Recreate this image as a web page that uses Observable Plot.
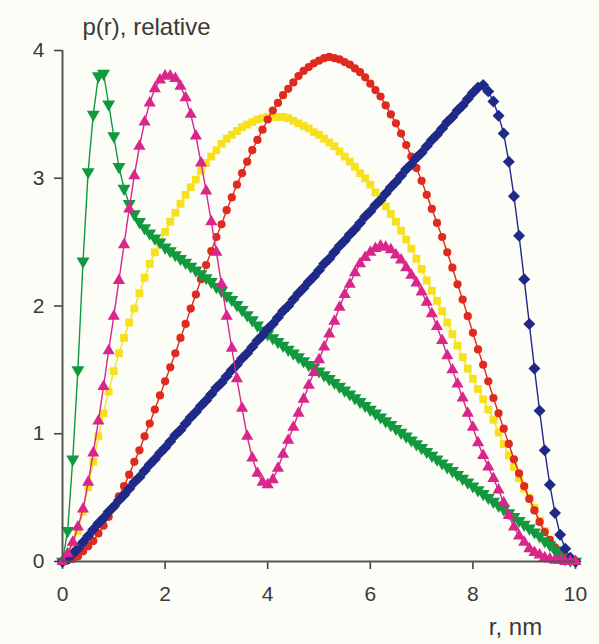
<!DOCTYPE html>
<html>
<head>
<meta charset="utf-8">
<script src="https://cdn.jsdelivr.net/npm/d3@7"></script>
<script src="https://cdn.jsdelivr.net/npm/@observablehq/plot@0.6"></script>
<style>
  html, body { margin: 0; padding: 0; background: #fdfdf8; }
  #chart { width: 599px; height: 644px; }
</style>
</head>
<body>
<div id="chart"></div>
<script>
// r values (nm)
const r = [0,0.1,0.2,0.3,0.4,0.5,0.6,0.7,0.8,0.9,
  1,1.1,1.2,1.3,1.4,1.5,1.6,1.7,1.8,1.9,
  2,2.1,2.2,2.3,2.4,2.5,2.6,2.7,2.8,2.9,
  3,3.1,3.2,3.3,3.4,3.5,3.6,3.7,3.8,3.9,
  4,4.1,4.2,4.3,4.4,4.5,4.6,4.7,4.8,4.9,
  5,5.1,5.2,5.3,5.4,5.5,5.6,5.7,5.8,5.9,
  6,6.1,6.2,6.3,6.4,6.5,6.6,6.7,6.8,6.9,
  7,7.1,7.2,7.3,7.4,7.5,7.6,7.7,7.8,7.9,
  8,8.1,8.2,8.3,8.4,8.5,8.6,8.7,8.8,8.9,
  9,9.1,9.2,9.3,9.4,9.5,9.6,9.7,9.8,9.9,10];

const green = [0,0.24,0.80,1.50,2.35,3.05,3.50,3.80,3.82,3.58,
  3.33,3.09,2.92,2.80,2.72,2.66,2.61,2.57,2.53,2.50,
  2.46,2.43,2.40,2.37,2.34,2.31,2.28,2.25,2.22,2.19,
  2.15,2.12,2.08,2.05,2.01,1.97,1.93,1.89,1.85,1.81,
  1.78,1.75,1.72,1.69,1.66,1.63,1.60,1.57,1.54,1.52,
  1.49,1.46,1.43,1.40,1.37,1.34,1.31,1.28,1.25,1.22,
  1.19,1.16,1.13,1.10,1.07,1.04,1.01,0.98,0.95,0.92,
  0.89,0.86,0.83,0.80,0.77,0.74,0.71,0.68,0.65,0.62,
  0.59,0.56,0.53,0.50,0.47,0.44,0.41,0.38,0.35,0.32,
  0.29,0.26,0.23,0.20,0.16,0.13,0.09,0.05,0.02,0.01,0];

const magenta = [0,0.06,0.15,0.27,0.41,0.62,0.85,1.10,1.37,1.65,
  1.92,2.20,2.48,2.76,3.02,3.25,3.44,3.59,3.70,3.77,
  3.80,3.80,3.78,3.72,3.63,3.50,3.33,3.12,2.90,2.66,
  2.42,2.17,1.92,1.67,1.43,1.20,0.98,0.81,0.69,0.62,
  0.60,0.64,0.73,0.84,0.95,1.05,1.16,1.27,1.38,1.48,
  1.58,1.68,1.78,1.88,1.99,2.09,2.17,2.26,2.33,2.38,
  2.42,2.45,2.47,2.46,2.44,2.40,2.36,2.30,2.24,2.18,
  2.11,2.03,1.94,1.84,1.73,1.61,1.50,1.39,1.28,1.16,
  1.05,0.93,0.83,0.74,0.65,0.56,0.46,0.36,0.27,0.20,
  0.15,0.10,0.07,0.05,0.03,0.02,0.01,0.01,0,0,0];

const yellow = [0,0.04,0.12,0.24,0.39,0.58,0.78,0.98,1.16,1.33,
  1.49,1.63,1.75,1.87,1.98,2.10,2.22,2.33,2.42,2.50,
  2.58,2.66,2.73,2.80,2.87,2.93,2.99,3.06,3.12,3.17,
  3.22,3.27,3.31,3.34,3.37,3.40,3.42,3.44,3.46,3.47,
  3.48,3.48,3.48,3.48,3.47,3.45,3.43,3.41,3.39,3.36,
  3.34,3.31,3.28,3.25,3.21,3.17,3.13,3.09,3.04,3.00,
  2.95,2.89,2.84,2.78,2.72,2.66,2.59,2.52,2.45,2.37,
  2.29,2.20,2.12,2.04,1.96,1.87,1.78,1.69,1.60,1.51,
  1.43,1.35,1.27,1.19,1.11,1.01,0.92,0.83,0.74,0.65,
  0.57,0.50,0.42,0.32,0.24,0.17,0.10,0.05,0.02,0.01,0];

const red = [0,0.01,0.02,0.04,0.08,0.12,0.16,0.22,0.28,0.35,
  0.43,0.51,0.59,0.68,0.78,0.87,0.98,1.08,1.19,1.30,
  1.41,1.52,1.63,1.75,1.86,1.98,2.09,2.21,2.32,2.43,
  2.54,2.64,2.75,2.85,2.95,3.04,3.13,3.22,3.30,3.38,
  3.46,3.53,3.59,3.65,3.70,3.75,3.80,3.84,3.87,3.90,
  3.92,3.94,3.95,3.94,3.93,3.91,3.89,3.86,3.83,3.79,
  3.74,3.69,3.64,3.57,3.50,3.43,3.35,3.26,3.17,3.08,
  2.98,2.87,2.76,2.65,2.54,2.42,2.30,2.17,2.05,1.92,
  1.79,1.66,1.54,1.41,1.28,1.16,1.04,0.92,0.80,0.69,
  0.59,0.49,0.40,0.31,0.23,0.17,0.11,0.06,0.03,0.01,0];

const blue = [0,0.02,0.06,0.10,0.15,0.20,0.25,0.30,0.34,0.39,
  0.43,0.48,0.52,0.57,0.62,0.66,0.71,0.76,0.80,0.85,
  0.89,0.94,0.99,1.03,1.08,1.13,1.17,1.22,1.26,1.31,
  1.36,1.40,1.45,1.50,1.54,1.59,1.63,1.68,1.73,1.77,
  1.82,1.86,1.91,1.96,2.00,2.05,2.10,2.14,2.19,2.23,
  2.28,2.33,2.37,2.42,2.47,2.51,2.56,2.60,2.65,2.70,
  2.74,2.79,2.83,2.88,2.93,2.97,3.02,3.07,3.11,3.16,
  3.20,3.25,3.30,3.34,3.39,3.44,3.48,3.53,3.57,3.62,
  3.67,3.71,3.73,3.68,3.60,3.49,3.35,3.13,2.86,2.55,
  2.21,1.86,1.51,1.18,0.87,0.60,0.38,0.21,0.10,0.03,0];

const xTicks = [0, 2, 4, 6, 8, 10];
const yTicks = [0, 1, 2, 3, 4];
const yTitle = "p(r), relative";
const xTitle = "r, nm";

function rows(values) {
  return values.map((p, i) => ({r: r[i], p}));
}

const series = [
  {values: yellow,  color: "#f7e01c", symbol: "square",   size: 4.4, rotate: 0},
  {values: red,     color: "#de2a1f", symbol: "circle",   size: 4.1, rotate: 0},
  {values: green,   color: "#12983f", symbol: "triangle", size: 4.8, rotate: 180},
  {values: blue,    color: "#1f2a88", symbol: "diamond2", size: 5.4, rotate: 0},
  {values: magenta, color: "#d9258c", symbol: "triangle", size: 4.5, rotate: 0}
];

const seriesMarks = series.flatMap(s => {
  const d = rows(s.values);
  return [
    Plot.line(d, {x: "r", y: "p", stroke: s.color, strokeWidth: 1.4}),
    Plot.dot(d, {x: "r", y: "p", fill: s.color, stroke: "none", symbol: s.symbol, r: s.size, rotate: s.rotate})
  ];
});

const chart = Plot.plot({
  width: 599,
  height: 644,
  marginLeft: 62,
  marginRight: 24,
  marginTop: 50,
  marginBottom: 83,
  style: {background: "#fdfdf8", fontFamily: "'Liberation Sans', Arial, sans-serif", color: "#333"},
  x: {domain: [0, 10]},
  y: {domain: [0, 4]},
  marks: [
    Plot.axisX({ticks: xTicks, tickSize: 8, tickPadding: 17, fontSize: 21, stroke: "#444", strokeWidth: 1.6, fill: "#3a3a3a", label: null, tickFormat: d => d}),
    Plot.axisY({ticks: yTicks, tickSize: 8, tickPadding: 10, fontSize: 21, stroke: "#444", strokeWidth: 1.6, fill: "#3a3a3a", label: null, tickFormat: d => d}),
    ...seriesMarks,
    Plot.ruleY([0], {stroke: "#555", strokeWidth: 2}),
    Plot.ruleX([0], {stroke: "#555", strokeWidth: 2}),
    Plot.text([yTitle], {frameAnchor: "top-left", dx: 20, dy: -33, text: d => d, textAnchor: "start", fontSize: 24, fill: "#3a3a3a"}),
    Plot.text([xTitle], {frameAnchor: "bottom-right", dx: -60, dy: 73, text: d => d, textAnchor: "middle", fontSize: 24, fill: "#3a3a3a"})
  ]
});

document.getElementById("chart").appendChild(chart);
</script>
</body>
</html>
